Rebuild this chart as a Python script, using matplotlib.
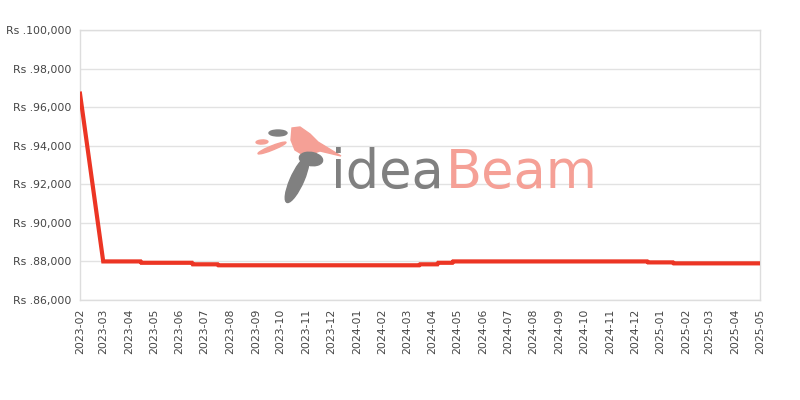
import matplotlib
matplotlib.use("Agg")
import matplotlib.pyplot as plt
from matplotlib.patches import Ellipse, Polygon
import pandas as pd

# Price history (change points)
dates = ["2023-02-01", "2023-03-01", "2023-04-15", "2023-04-16", "2023-06-16",
         "2023-06-17", "2023-07-17", "2023-07-18", "2024-03-16", "2024-03-17",
         "2024-04-07", "2024-04-08", "2024-04-25", "2024-04-26", "2024-12-16",
         "2024-12-17", "2025-01-16", "2025-01-17", "2025-05-01"]
prices = [96700, 88000, 88000, 87930, 87930,
          87850, 87850, 87800, 87800, 87850,
          87850, 87930, 87930, 88000, 88000,
          87950, 87950, 87900, 87900]

y_ticks = [86000, 88000, 90000, 92000, 94000, 96000, 98000, 100000]
months = pd.date_range("2023-02-01", "2025-05-01", freq="MS")

x = pd.to_datetime(dates)

fig = plt.figure(figsize=(8, 4), dpi=100)
ax = fig.add_axes([0.1, 0.25, 0.85, 0.675])

GREY = "#808080"
SALMON = "#f5a096"


def px(xp, yp):
    # pixel position (top-left origin) -> figure fraction
    return (xp / 800, 1 - yp / 400)


# watermark logo
t1 = fig.text(*px(331, 188), "idea", fontsize=38, color=GREY, ha="left",
              va="baseline", family="DejaVu Sans", zorder=0)
fig.canvas.draw()
bb = t1.get_window_extent()
fig.text(bb.x1 / 800 + 0.003, px(0, 188)[1], "Beam", fontsize=38, color=SALMON,
         ha="left", va="baseline", family="DejaVu Sans", zorder=0)
head = [px(292, 128), px(300, 127), px(310, 134), px(318, 142), px(341, 156),
        px(320, 151), px(305, 156), px(295, 150), px(291, 140)]
fig.patches.append(Polygon(head, closed=True, transform=fig.transFigure,
                           color=SALMON, zorder=0))
shapes = [((297, 180), 14, 46, -12, GREY),
          ((311, 159), 22, 14, 25, GREY),
          ((278, 133), 18, 6, 0, GREY),
          ((272, 148), 7, 18, -50, SALMON),
          ((262, 142), 12, 4, 10, SALMON)]
for (cx, cy), w, h, ang, col in shapes:
    fig.patches.append(Ellipse(px(cx, cy), w / 800, h / 400, angle=ang,
                               transform=fig.transFigure, color=col, zorder=0))

ax.patch.set_alpha(0)
ax.plot(x, prices, color="#ec3524", linewidth=3, solid_joinstyle="miter", zorder=3)

ax.set_xlim(months[0], months[-1])
ax.set_ylim(86000, 100000)
ax.set_yticks(y_ticks)
ax.set_yticklabels([f"Rs .{v:,}" for v in y_ticks])
ax.set_xticks(months)
ax.set_xticklabels([m.strftime("%Y-%m") for m in months], rotation=90)

ax.grid(axis="y", color="#e2e2e2", linewidth=1)
ax.set_axisbelow(True)
for s in ax.spines.values():
    s.set_color("#dddddd")
    s.set_linewidth(1)
ax.tick_params(axis="y", length=0, labelsize=7.8, labelcolor="#444444", pad=6)
ax.tick_params(axis="x", length=0, labelsize=7.8, labelcolor="#444444", pad=6)

fig.savefig("out.png", dpi=100)
